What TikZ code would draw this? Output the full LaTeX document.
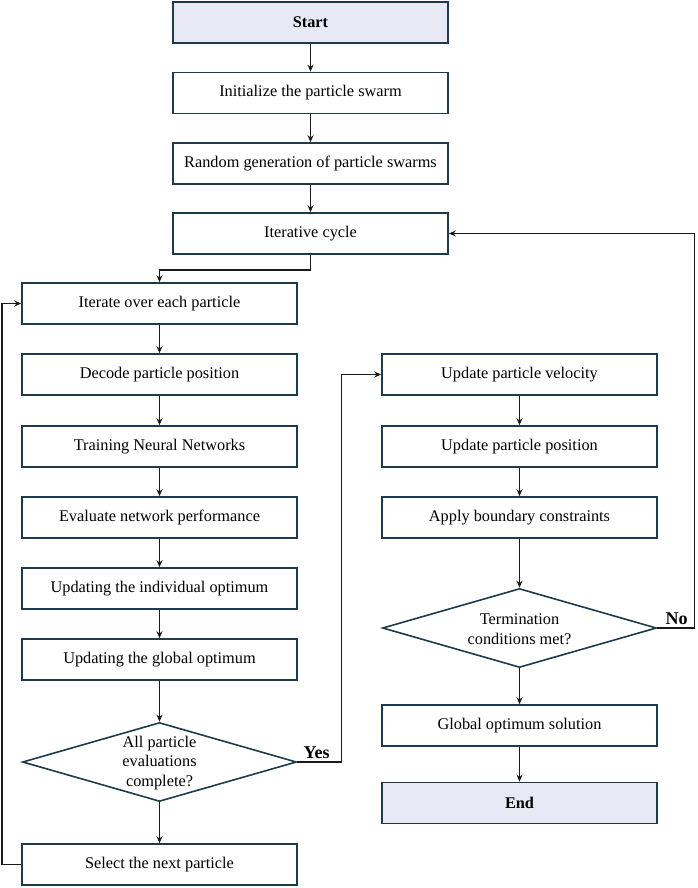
\documentclass[tikz,border=0pt]{standalone}
\usepackage{fontspec}
\setmainfont{Liberation Serif}
\usetikzlibrary{shapes.geometric,arrows.meta}
\definecolor{bord}{HTML}{1F3A4A}
\definecolor{term}{HTML}{E9E9F5}
\definecolor{arrc}{HTML}{1A1A1A}
\begin{document}
\begin{tikzpicture}[x=1pt,y=-1pt,
  box/.style={draw=bord,line width=1.6pt,fill=white,minimum width=275pt,minimum height=41pt,inner sep=0pt,font=\fontsize{16.3}{19.5}\selectfont},
  termbox/.style={box,fill=term,font=\fontsize{16.3}{19.5}\selectfont\bfseries},
  decbox/.style={draw=bord,line width=1.6pt,diamond,minimum width=274pt,minimum height=79pt,inner sep=0pt},
  dectext/.style={align=center,font=\fontsize{16.3}{19.5}\selectfont},
  lab/.style={font=\fontsize{18}{20}\selectfont\bfseries,inner sep=0pt},
  arr/.style={draw=arrc,line width=1.5pt,-{Stealth[length=7pt,width=6pt]}}]
\useasboundingbox (0,0) rectangle (698,888);
% top column
\node[termbox] (start) at (310.5,22.5) {Start};
\node[box] (init) at (310.5,93) {Initialize the particle swarm};
\node[box] (rand) at (310.5,163.5) {Random generation of particle swarms};
\node[box] (iter) at (310.5,233.5) {Iterative cycle};
% left column
\node[box] (each) at (159.5,303.5) {Iterate over each particle};
\node[box] (dec) at (159.5,374.5) {Decode particle position};
\node[box] (train) at (159.5,446.5) {Training Neural Networks};
\node[box] (eval) at (159.5,517.5) {Evaluate network performance};
\node[box] (indiv) at (159.5,588.5) {Updating the individual optimum};
\node[box] (glob) at (159.5,659.5) {Updating the global optimum};
\node[decbox] (all) at (159.5,762) {};
\node[dectext] (allt) at (159.5,763) {All particle\\evaluations\\complete?};
\node[box] (sel) at (159.5,864.5) {Select the next particle};
% right column
\node[box] (vel) at (519.5,374.5) {Update particle velocity};
\node[box] (pos) at (519.5,446.5) {Update particle position};
\node[box] (bnd) at (519.5,517.5) {Apply boundary constraints};
\node[decbox] (term) at (519.5,628) {};
\node[dectext] (termt) at (519.5,629) {Termination\\conditions met?};
\node[box] (gopt) at (519.5,725.5) {Global optimum solution};
\node[termbox] (end) at (519.5,803) {End};
% labels
\node[lab,anchor=south] (yes) at (316.5,759) {Yes};
\node[lab,anchor=south] (no) at (676.5,625) {No};
% connectors
\draw[arr] (start) -- (init);
\draw[arr] (init) -- (rand);
\draw[arr] (rand) -- (iter);
\draw[arr] (iter.south) -- ++(0,15) -| (each.north);
\draw[arr] (each) -- (dec);
\draw[arr] (dec) -- (train);
\draw[arr] (train) -- (eval);
\draw[arr] (eval) -- (indiv);
\draw[arr] (indiv) -- (glob);
\draw[arr] (glob) -- (all);
\draw[arr] (all) -- (sel);
\draw[arr] (sel.west) -- ++(-19,0) |- (each.west);
\draw[arr] (all.east) -- ++(44,0) |- (vel.west);
\draw[arr] (vel) -- (pos);
\draw[arr] (pos) -- (bnd);
\draw[arr] (bnd) -- (term);
\draw[arr] (term) -- (gopt);
\draw[arr] (gopt) -- (end);
\draw[arr] (term.east) -- ++(37,0) |- (iter.east);
\end{tikzpicture}
\end{document}
